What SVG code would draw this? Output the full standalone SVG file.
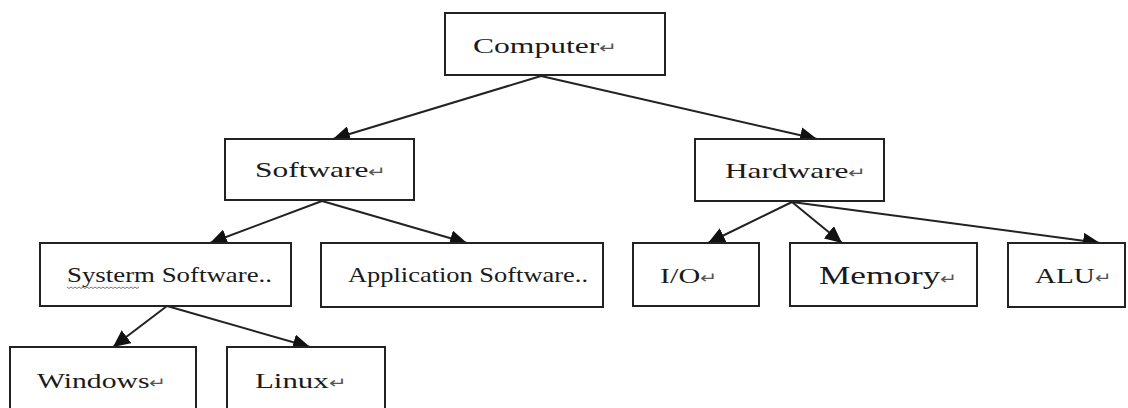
<svg xmlns="http://www.w3.org/2000/svg" width="1128" height="408" viewBox="0 0 1128 408">
  <defs>
    <marker id="arr" markerUnits="userSpaceOnUse" markerWidth="18" markerHeight="16" refX="17" refY="8" orient="auto">
      <path d="M0,0 L17,8 L0,16 z" fill="#111"/>
    </marker>
    <style>
      .box { fill: #fff; stroke: #222; stroke-width: 2; }
      .lbl { font-family: "Liberation Serif", "Times New Roman", serif; font-size: 22px; fill: #1a1a1a; }
      .big { font-size: 26px; }
      .rt { font-size: 15px; fill: #555; }
      .edge { stroke: #222; stroke-width: 2; fill: none; marker-end: url(#arr); }
    </style>
  </defs>
  <rect width="1128" height="408" fill="#fff"/>

  <g id="connectors">
    <line class="edge" x1="541" y1="76" x2="333" y2="139"/>
    <line class="edge" x1="541" y1="76" x2="817" y2="139"/>
    <line class="edge" x1="322" y1="201" x2="210" y2="243"/>
    <line class="edge" x1="322" y1="201" x2="467" y2="243"/>
    <line class="edge" x1="167" y1="306" x2="113" y2="347"/>
    <line class="edge" x1="167" y1="306" x2="310" y2="347"/>
    <line class="edge" x1="792" y1="202" x2="708" y2="243"/>
    <line class="edge" x1="792" y1="202" x2="842" y2="243"/>
    <line class="edge" x1="792" y1="202" x2="1100" y2="243"/>
  </g>

  <g id="computer">
    <rect class="box" x="445" y="13" width="220" height="62"/>
    <text class="lbl" x="473" y="53" textLength="145" lengthAdjust="spacingAndGlyphs">Computer<tspan class="rt">↵</tspan></text>
  </g>
  <g id="software">
    <rect class="box" x="225" y="139" width="189" height="61"/>
    <text class="lbl" x="255" y="177" textLength="132" lengthAdjust="spacingAndGlyphs">Software<tspan class="rt">↵</tspan></text>
  </g>
  <g id="hardware">
    <rect class="box" x="695" y="139" width="189" height="62"/>
    <text class="lbl" x="725" y="178" textLength="142" lengthAdjust="spacingAndGlyphs">Hardware<tspan class="rt">↵</tspan></text>
  </g>
  <g id="systerm-software">
    <rect class="box" x="40" y="243" width="251" height="63"/>
    <text class="lbl" x="67" y="282" textLength="205" lengthAdjust="spacingAndGlyphs">Systerm Software..</text>
    <path d="M67,287 l2,1.5 l2,-1.5 l2,1.5 l2,-1.5 l2,1.5 l2,-1.5 l2,1.5 l2,-1.5 l2,1.5 l2,-1.5 l2,1.5 l2,-1.5 l2,1.5 l2,-1.5 l2,1.5 l2,-1.5 l2,1.5 l2,-1.5 l2,1.5 l2,-1.5 l2,1.5 l2,-1.5 l2,1.5 l2,-1.5 l2,1.5 l2,-1.5 l2,1.5 l2,-1.5 l2,1.5 l2,-1.5 l2,1.5 l2,-1.5 l2,1.5 l2,-1.5 l2,1.5 l2,-1.5" fill="none" stroke="#777" stroke-width="1"/>
  </g>
  <g id="application-software">
    <rect class="box" x="321" y="243" width="282" height="64"/>
    <text class="lbl" x="348" y="282" textLength="240" lengthAdjust="spacingAndGlyphs">Application Software..</text>
  </g>
  <g id="io">
    <rect class="box" x="633" y="243" width="126" height="63"/>
    <text class="lbl" x="660" y="283" textLength="58" lengthAdjust="spacingAndGlyphs">I/O<tspan class="rt">↵</tspan></text>
  </g>
  <g id="memory">
    <rect class="box" x="790" y="243" width="187" height="63"/>
    <text class="lbl big" x="819" y="284" textLength="139" lengthAdjust="spacingAndGlyphs">Memory<tspan class="rt">↵</tspan></text>
  </g>
  <g id="alu">
    <rect class="box" x="1008" y="243" width="117" height="64"/>
    <text class="lbl" x="1035" y="283" textLength="77" lengthAdjust="spacingAndGlyphs">ALU<tspan class="rt">↵</tspan></text>
  </g>
  <g id="windows">
    <rect class="box" x="10" y="347" width="186" height="72"/>
    <text class="lbl" x="37" y="388" textLength="130" lengthAdjust="spacingAndGlyphs">Windows<tspan class="rt">↵</tspan></text>
  </g>
  <g id="linux">
    <rect class="box" x="227" y="347" width="158" height="72"/>
    <text class="lbl" x="255" y="388" textLength="92" lengthAdjust="spacingAndGlyphs">Linux<tspan class="rt">↵</tspan></text>
  </g>
</svg>
